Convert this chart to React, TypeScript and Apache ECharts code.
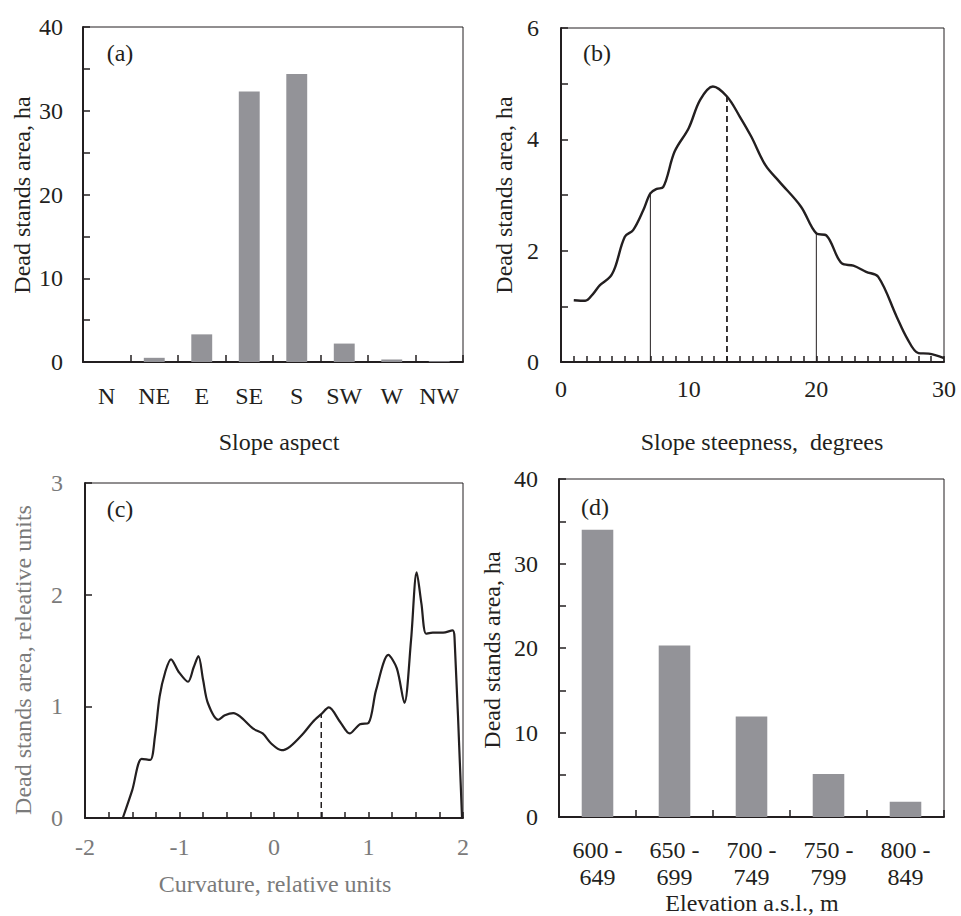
import React, { useEffect, useRef } from 'react';
import * as echarts from 'echarts';

// (a) slope aspect
const aspectCategories = ['N', 'NE', 'E', 'SE', 'S', 'SW', 'W', 'NW'];
const aspectArea = [0, 0.5, 3.3, 32.3, 34.4, 2.2, 0.3, 0.1];

// (b) slope steepness curve
const steepX = [1, 1.9, 2.5, 3.05, 3.85, 4.25, 5.0, 5.65, 6.45, 7.0, 7.5, 8.0, 8.9, 10.0, 10.9, 11.9, 13.0, 14.0, 14.9, 16.0, 17.1, 18.8, 20.0, 20.8, 22.0, 22.9, 23.9, 24.85, 26.3, 27.1, 28.0, 28.8, 30];
const steepY = [1.11, 1.10, 1.22, 1.38, 1.53, 1.71, 2.25, 2.37, 2.73, 3.03, 3.11, 3.14, 3.78, 4.2, 4.71, 4.95, 4.77, 4.41, 4.05, 3.54, 3.24, 2.79, 2.31, 2.27, 1.77, 1.73, 1.62, 1.53, 0.81, 0.43, 0.16, 0.15, 0.07];
const steepMarkX = [7, 13, 20];
const steepMarkY = [3.05, 4.77, 2.32];
const steepMarkDashed = [false, true, false];

// (c) curvature curve
const curvX = [-1.6, -1.5, -1.4, -1.31, -1.26, -1.21, -1.15, -1.09, -1.01, -0.91, -0.85, -0.80, -0.75, -0.70, -0.59, -0.52, -0.43, -0.36, -0.22, -0.12, -0.03, 0.08, 0.17, 0.31, 0.41, 0.5, 0.58, 0.70, 0.80, 0.91, 1.0, 1.08, 1.21, 1.30, 1.38, 1.45, 1.51, 1.56, 1.61, 1.68, 1.79, 1.89, 1.91, 1.99];
const curvY = [0, 0.25, 0.53, 0.52, 0.73, 1.09, 1.31, 1.42, 1.31, 1.22, 1.35, 1.45, 1.235, 1.03, 0.88, 0.92, 0.94, 0.91, 0.80, 0.757, 0.667, 0.607, 0.64, 0.757, 0.86, 0.93, 0.99, 0.86, 0.757, 0.84, 0.85, 1.145, 1.46, 1.34, 1.03, 1.59, 2.20, 1.92, 1.65, 1.66, 1.66, 1.68, 1.62, 0];
const curvMarkX = [0.5];
const curvMarkY = [0.93];

// (d) elevation
const elevCategories = ['600 -\n649', '650 -\n699', '700 -\n749', '750 -\n799', '800 -\n849'];
const elevArea = [34.0, 20.3, 11.9, 5.1, 1.8];

// tick label settings
const yTicksArea = { min: 0, max: 40, interval: 5, labelEvery: 10 };
const yTicksSteep = { min: 0, max: 6, interval: 1, labelEvery: 2 };
const xTicksSteep = { min: 0, max: 30, interval: 1, labelEvery: 10 };
const yTicksCurv = { min: 0, max: 3, interval: 1, labelEvery: 1 };
const xTicksCurv = { min: -2, max: 2, interval: 0.25, labelEvery: 1 };

const TEXT = '#231f20';
const GRAY = '#7a7a7a';
const BAR = '#939398';
const FONT = 'Liberation Serif';
const FS = 24;

function valueAxis(gridIndex: number, t: any, color: string, margin: number, tickLen: number) {
  return {
    type: 'value',
    gridIndex,
    min: t.min,
    max: t.max,
    interval: t.interval,
    axisLine: { show: true, onZero: false, lineStyle: { color: TEXT, width: 2 } },
    axisTick: { show: true, inside: true, length: tickLen, lineStyle: { color: TEXT, width: 1.5 } },
    splitLine: { show: false },
    axisLabel: {
      show: true,
      margin,
      color,
      fontFamily: FONT,
      fontSize: FS,
      formatter: (v: number) => {
        const r = Math.round(v * 1000) / 1000;
        return Math.abs(r / t.labelEvery - Math.round(r / t.labelEvery)) < 1e-6 ? String(r) : '';
      },
    },
  };
}

function catAxis(gridIndex: number, cats: string[], margin: number) {
  return {
    type: 'category',
    gridIndex,
    data: cats,
    boundaryGap: true,
    axisLine: { show: true, onZero: false, lineStyle: { color: TEXT, width: 2 } },
    axisTick: { show: true, inside: true, length: 7, interval: 0, lineStyle: { color: TEXT, width: 1.5 } },
    axisLabel: { interval: 0, margin, color: TEXT, fontFamily: FONT, fontSize: FS, lineHeight: 27 },
    splitLine: { show: false },
  };
}

function txt(x: number, y: number, text: string, color = TEXT, rotation = 0) {
  return {
    type: 'text',
    x,
    y,
    rotation,
    style: { text, fill: color, font: `${FS}px "${FONT}"`, textAlign: 'center', textVerticalAlign: 'middle' },
  };
}

export default function App() {
  const ref = useRef<HTMLDivElement>(null);
  useEffect(() => {
    if (!ref.current) return;
    const chart = echarts.init(ref.current, undefined, { renderer: 'svg' });
    const gridBase = { show: true, borderColor: TEXT, borderWidth: 1, backgroundColor: 'transparent', containLabel: false };
    const vlines: any[] = [];
    steepMarkX.forEach((x, i) => {
      vlines.push({
        type: 'line', xAxisIndex: 1, yAxisIndex: 1, showSymbol: false, symbol: 'none',
        data: [[x, 0], [x, steepMarkY[i]]],
        lineStyle: { color: TEXT, width: steepMarkDashed[i] ? 1.8 : 1, type: steepMarkDashed[i] ? [6, 4] : 'solid' },
        z: 1,
      });
    });
    curvMarkX.forEach((x, i) => {
      vlines.push({
        type: 'line', xAxisIndex: 2, yAxisIndex: 2, showSymbol: false, symbol: 'none',
        data: [[x, 0], [x, curvMarkY[i]]],
        lineStyle: { color: TEXT, width: 1.5, type: [6, 4] },
        z: 1,
      });
    });
    chart.setOption({
      animation: false,
      backgroundColor: '#ffffff',
      grid: [
        { ...gridBase, left: 83, top: 27, width: 380, height: 335 },
        { ...gridBase, left: 561, top: 28, width: 383, height: 334 },
        { ...gridBase, left: 85, top: 483, width: 378, height: 335 },
        { ...gridBase, left: 559, top: 479, width: 385, height: 338 },
      ],
      xAxis: [
        catAxis(0, aspectCategories, 20),
        valueAxis(1, xTicksSteep, TEXT, 15, 6),
        valueAxis(2, xTicksCurv, GRAY, 17, 6),
        catAxis(3, elevCategories, 19),
      ],
      yAxis: [
        valueAxis(0, yTicksArea, TEXT, 20, 7),
        valueAxis(1, yTicksSteep, TEXT, 22, 7),
        valueAxis(2, yTicksCurv, GRAY, 22, 7),
        valueAxis(3, yTicksArea, TEXT, 21, 7),
      ],
      series: [
        { type: 'bar', xAxisIndex: 0, yAxisIndex: 0, data: aspectArea, barWidth: '44%', itemStyle: { color: BAR } },
        {
          type: 'line', xAxisIndex: 1, yAxisIndex: 1, showSymbol: false, symbol: 'none', smooth: 0.35,
          data: steepX.map((x, i) => [x, steepY[i]]),
          lineStyle: { color: TEXT, width: 2.4 }, z: 3,
        },
        {
          type: 'line', xAxisIndex: 2, yAxisIndex: 2, showSymbol: false, symbol: 'none', smooth: 0.3,
          data: curvX.map((x, i) => [x, curvY[i]]),
          lineStyle: { color: TEXT, width: 2.2 }, z: 3,
        },
        { type: 'bar', xAxisIndex: 3, yAxisIndex: 3, data: elevArea, barWidth: '41%', itemStyle: { color: BAR } },
        ...vlines,
      ],
      graphic: [
        txt(120, 53, '(a)'),
        txt(597, 53, '(b)'),
        txt(120, 509, '(c)'),
        txt(595, 507, '(d)'),
        txt(22, 195, 'Dead stands area, ha', TEXT, Math.PI / 2),
        txt(504, 195, 'Dead stands area, ha', TEXT, Math.PI / 2),
        txt(23, 660, 'Dead stands area, releative units', GRAY, Math.PI / 2),
        txt(492, 650, 'Dead stands area, ha', TEXT, Math.PI / 2),
        txt(279, 442, 'Slope aspect'),
        txt(762, 442, 'Slope steepness,  degrees'),
        txt(275, 884, 'Curvature, relative units', GRAY),
        txt(752, 903, 'Elevation a.s.l., m'),
      ],
    });
    return () => chart.dispose();
  }, []);
  return (
    <div
      ref={ref}
      style={{ position: 'fixed', left: 0, top: 0, width: 961, height: 916, background: '#fff' }}
    />
  );
}
